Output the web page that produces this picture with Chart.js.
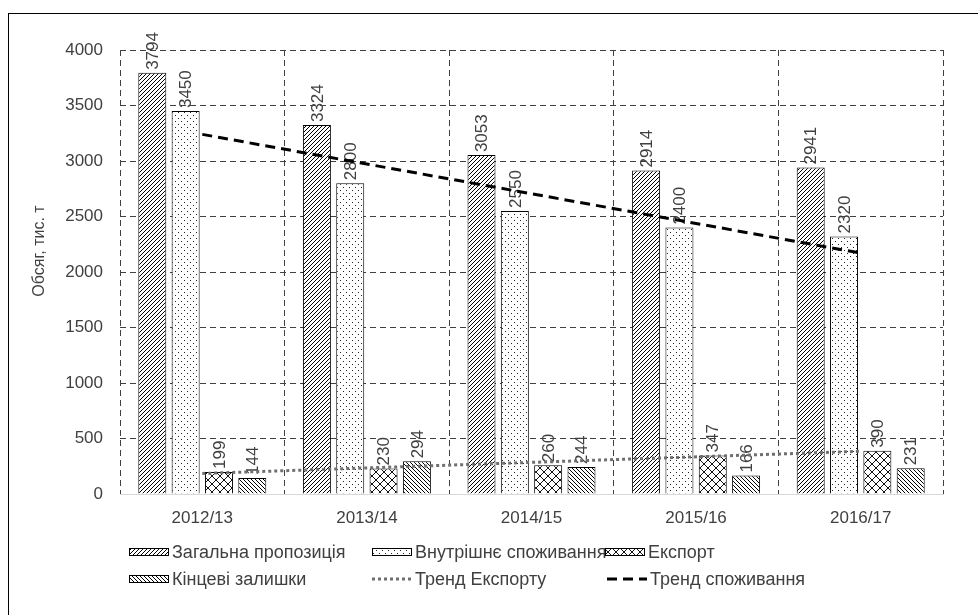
<!DOCTYPE html>
<html>
<head>
<meta charset="utf-8">
<script src="https://cdn.jsdelivr.net/npm/chart.js@4"></script>
<style>
html,body{margin:0;padding:0;background:#fff;}
#wrap{position:relative;width:978px;height:615px;overflow:hidden;}
#frame{position:absolute;left:8px;top:13px;width:1000px;height:700px;border-left:1px solid #000;border-top:1px solid #000;}
#c{position:absolute;left:0;top:0;}
</style>
</head>
<body>
<div id="wrap"><div id="frame"></div><canvas id="c" width="978" height="615"></canvas></div>
<script>
// ---- data ----
const categories = ['2012/13', '2013/14', '2014/15', '2015/16', '2016/17'];
const totalSupply = [3794, 3324, 3053, 2914, 2941];
const domesticUse = [3450, 2800, 2550, 2400, 2320];
const exportVol = [199, 230, 260, 347, 390];
const endingStocks = [144, 294, 244, 166, 231];
const exportTrend = [185, null, null, null, 385];
const useTrend = [3240, null, null, null, 2170];
const yMin = 0, yMax = 4000, yStep = 500;
const seriesNames = ['Загальна пропозиція', 'Внутрішнє споживання', 'Експорт', 'Кінцеві залишки', 'Тренд Експорту', 'Тренд споживання'];
const yTitle = 'Обсяг, тис. т';

// ---- patterns ----
function makePattern(kind) {
  const s = kind === 'cross' ? 8 : (kind === 'dots' ? 6 : 4);
  const c = document.createElement('canvas');
  c.width = s; c.height = s;
  const g = c.getContext('2d');
  g.fillStyle = '#fff'; g.fillRect(0, 0, s, s);
  g.strokeStyle = '#000'; g.lineWidth = 1;
  const fwd = () => {
    g.beginPath();
    g.moveTo(-1, s + 1); g.lineTo(s + 1, -1);
    g.moveTo(-1 - s, s + 1); g.lineTo(1, -1);
    g.moveTo(s - 1, s + 1); g.lineTo(2 * s + 1, -1);
    g.stroke();
  };
  const back = () => {
    g.beginPath();
    g.moveTo(-1, -1); g.lineTo(s + 1, s + 1);
    g.moveTo(-1 - s, -1); g.lineTo(1, s + 1);
    g.moveTo(s - 1, -1); g.lineTo(2 * s + 1, s + 1);
    g.stroke();
  };
  if (kind === 'fwd') fwd();
  else if (kind === 'back') back();
  else if (kind === 'cross') { g.strokeStyle = '#111'; fwd(); back(); }
  else if (kind === 'dots') {
    g.fillStyle = '#222';
    g.fillRect(1, 1, 1, 1);
    g.fillRect(4, 4, 1, 1);
  }
  return document.getElementById('c').getContext('2d').createPattern(c, 'repeat');
}
const patFwd = makePattern('fwd');
const patDots = makePattern('dots');
const patCross = makePattern('cross');
const patBack = makePattern('back');

const FONT = '"Liberation Sans", Arial, sans-serif';
const TXT = '#404040';
const GRID = '#404040';

// ---- legend layout ----
const legendItems = [
  { i: 0, x: 129, y: 552, kind: 'box', fill: patFwd },
  { i: 1, x: 372, y: 552, kind: 'box', fill: patDots },
  { i: 2, x: 605, y: 552, kind: 'box', fill: patCross },
  { i: 3, x: 129, y: 579, kind: 'box', fill: patBack },
  { i: 4, x: 372, y: 579, kind: 'dot' },
  { i: 5, x: 607, y: 579, kind: 'dash' }
];

const extras = {
  id: 'extras',
  afterDatasetDraw(chart, args) {
    const ds = chart.data.datasets[args.index];
    if (ds.type === 'line') return;
    const ctx = chart.ctx;
    ctx.save();
    ctx.font = '17px ' + FONT;
    ctx.fillStyle = TXT;
    ctx.textAlign = 'left';
    ctx.textBaseline = 'middle';
    args.meta.data.forEach((el, k) => {
      ctx.save();
      ctx.translate(el.x + 1, el.y - 3);
      ctx.rotate(-Math.PI / 2);
      ctx.fillText(String(ds.data[k]), 0, 0);
      ctx.restore();
    });
    ctx.restore();
  },
  afterDraw(chart) {
    const ctx = chart.ctx;
    // y axis title
    ctx.save();
    ctx.font = '16px ' + FONT;
    ctx.fillStyle = TXT;
    ctx.textAlign = 'center';
    ctx.textBaseline = 'middle';
    ctx.translate(40, 251);
    ctx.rotate(-Math.PI / 2);
    ctx.fillText(yTitle, 0, 0);
    ctx.restore();
    // legend
    ctx.save();
    ctx.font = '18px ' + FONT;
    ctx.textBaseline = 'middle';
    ctx.textAlign = 'left';
    legendItems.forEach(it => {
      const w = 40;
      if (it.kind === 'box') {
        ctx.fillStyle = it.fill;
        ctx.fillRect(it.x, it.y - 4, w, 8);
        ctx.strokeStyle = '#000';
        ctx.lineWidth = 1;
        ctx.strokeRect(it.x + 0.5, it.y - 3.5, w - 1, 7);
      } else {
        ctx.beginPath();
        ctx.lineWidth = 3;
        if (it.kind === 'dot') { ctx.strokeStyle = '#6f6f6f'; ctx.setLineDash([3, 3]); }
        else { ctx.strokeStyle = '#000'; ctx.setLineDash([10, 6]); }
        ctx.moveTo(it.x, it.y); ctx.lineTo(it.x + w, it.y);
        ctx.stroke();
        ctx.setLineDash([]);
      }
      ctx.fillStyle = TXT;
      ctx.fillText(seriesNames[it.i], it.x + w + 3, it.y + 1);
    });
    ctx.restore();
  }
};

const barCommon = { type: 'bar', borderColor: '#000', borderWidth: 1, categoryPercentage: 0.81, barPercentage: 0.84, order: 2 };

new Chart(document.getElementById('c'), {
  data: {
    labels: categories,
    datasets: [
      { ...barCommon, label: seriesNames[0], data: totalSupply, backgroundColor: patFwd },
      { ...barCommon, label: seriesNames[1], data: domesticUse, backgroundColor: patDots },
      { ...barCommon, label: seriesNames[2], data: exportVol, backgroundColor: patCross },
      { ...barCommon, label: seriesNames[3], data: endingStocks, backgroundColor: patBack },
      { type: 'line', label: seriesNames[4], data: exportTrend, spanGaps: true, borderColor: '#6f6f6f', borderWidth: 3, borderDash: [3, 3], pointRadius: 0, fill: false, order: 0 },
      { type: 'line', label: seriesNames[5], data: useTrend, spanGaps: true, borderColor: '#000', borderWidth: 3, borderDash: [10, 6], pointRadius: 0, fill: false, order: 0 }
    ]
  },
  options: {
    responsive: false,
    animation: false,
    devicePixelRatio: 1,
    layout: { padding: { left: 0, top: 50, right: 35, bottom: 91 } },
    plugins: { legend: { display: false }, tooltip: { enabled: false } },
    scales: {
      x: {
        offset: true,
        grid: { display: true, offset: true, color: GRID, lineWidth: 1, drawTicks: false },
        border: { display: true, color: '#d9d9d9', width: 1, dash: [6, 4] },
        ticks: { color: TXT, font: { size: 17, family: FONT }, padding: 14, maxRotation: 0 },
        afterFit(s) { s.height = 30; }
      },
      y: {
        min: yMin, max: yMax,
        grid: { color: (c) => (c.tick && c.tick.value === 0 ? 'rgba(0,0,0,0)' : GRID), lineWidth: 1, drawTicks: false },
        border: { display: false, dash: [6, 4] },
        ticks: { stepSize: yStep, color: TXT, font: { size: 17, family: FONT }, padding: 17, callback: (v) => String(v) },
        afterFit(s) { s.width = 120; }
      }
    }
  },
  plugins: [extras]
});
</script>
</body>
</html>
